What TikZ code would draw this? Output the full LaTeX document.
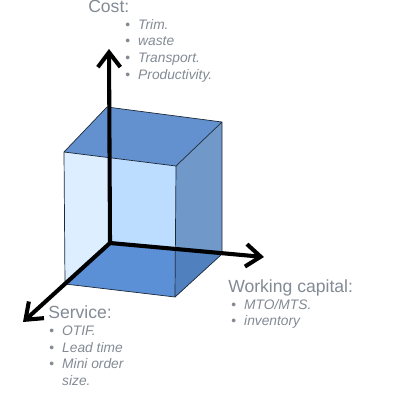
\documentclass[tikz,border=0pt]{standalone}
\usepackage{fontspec}
\setmainfont{Liberation Sans}
\usetikzlibrary{arrows.meta}
\definecolor{labelgray}{RGB}{130,138,148}
\definecolor{frontblue}{RGB}{188,221,255}
\definecolor{leftblue}{RGB}{220,238,255}
\definecolor{bottomblue}{RGB}{91,143,214}
\definecolor{topblue}{RGB}{99,145,207}
\definecolor{sideblue}{RGB}{112,153,201}
\definecolor{darkblue}{RGB}{80,128,190}
\definecolor{edgecol}{RGB}{30,42,56}
\newcommand{\bul}{\makebox[9.2pt][l]{\textbullet}}

\begin{document}
\begin{tikzpicture}[x=0.025cm, y=-0.025cm, line join=round,
	heading/.style={anchor=base west, inner sep=0, text=labelgray, font=\fontsize{12.5}{15}\selectfont},
	points/.style={anchor=base west, inner sep=0, text=labelgray, font=\fontsize{9.8}{11.8}\selectfont},
	axis/.style={line width=2.9pt, -{Straight Barb[length=10.5pt,width=16pt]}}]
	\useasboundingbox (0,0) rectangle (400,400);
	% cube corners
	\coordinate (O) at (110,243);
	\coordinate (ftl) at (64,152);
	\coordinate (ftr) at (176,166);
	\coordinate (fbr) at (175,297);
	\coordinate (fbl) at (65,284);
	\coordinate (btl) at (107,107);
	\coordinate (btr) at (222,122);
	\coordinate (bbr) at (222,254);
	\coordinate (cut) at (109,157.5);
	\coordinate (hid) at (176,249.5);
	% faces
	\fill[frontblue] (ftl)--(ftr)--(fbr)--(fbl)--cycle;
	\fill[leftblue] (ftl)--(cut)--(O)--(fbl)--cycle;
	\fill[bottomblue] (O)--(bbr)--(fbr)--(fbl)--cycle;
	\fill[topblue] (ftl)--(btl)--(btr)--(ftr)--cycle;
	\fill[sideblue] (ftr)--(btr)--(bbr)--(fbr)--cycle;
	\fill[darkblue] (hid)--(bbr)--(fbr)--cycle;
	\draw[edgecol, line width=0.5pt] (ftl)--(ftr)--(fbr)--(fbl)--cycle
		(ftl)--(btl)--(btr)--(ftr) (btr)--(bbr)--(fbr);
	% axes
	\coordinate (costtip) at (109,49);
	\coordinate (captip) at (264,257);
	\coordinate (servtip) at (23,322);
	\draw[axis] (O)--(costtip);
	\draw[axis] (O)--(captip);
	\draw[axis] (O)--(servtip);
	% labels
	\node[heading] (cost) at (88,12.7) {Cost:};
	\node[points] (costlist) at (125,29.3) {\begin{tabular}[t]{@{}l@{}l@{}}
		\bul&\textit{Trim.}\\ \bul&\textit{waste}\\ \bul&\textit{Transport.}\\ \bul&\textit{Productivity.}
		\end{tabular}};
	\node[heading] (capital) at (228,292) {Working capital:};
	\node[points] (capitallist) at (231,309.3) {\begin{tabular}[t]{@{}l@{}l@{}}
		\bul&\textit{MTO/MTS.}\\ \bul&\textit{inventory}
		\end{tabular}};
	\node[heading] (service) at (48,318) {Service:};
	\node[points] (servicelist) at (49,335.7) {\begin{tabular}[t]{@{}l@{}l@{}}
		\bul&\textit{OTIF.}\\ \bul&\textit{Lead time}\\ \bul&\textit{Mini order}\\ &\textit{size.}
		\end{tabular}};
\end{tikzpicture}
\end{document}
